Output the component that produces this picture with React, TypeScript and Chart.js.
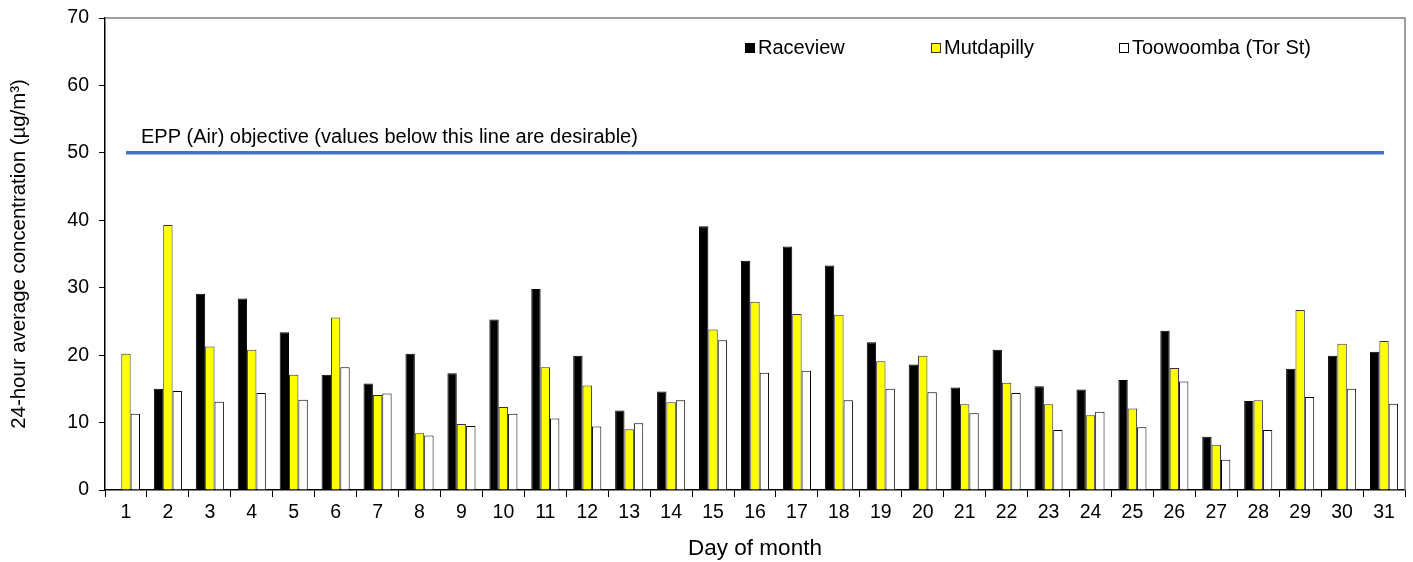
import React, { useEffect, useRef } from "react";
import { Chart, registerables } from "chart.js";

Chart.register(...registerables);

const days = ["1","2","3","4","5","6","7","8","9","10","11","12","13","14","15","16","17","18","19","20","21","22","23","24","25","26","27","28","29","30","31"];

const raceview = [null, 15.0, 29.1, 28.4, 23.4, 17.1, 15.8, 20.2, 17.3, 25.3, 29.8, 19.9, 11.8, 14.6, 39.1, 34.0, 36.1, 33.3, 21.9, 18.6, 15.2, 20.8, 15.4, 14.9, 16.3, 23.6, 7.9, 13.2, 18.0, 19.9, 20.5];
const mutdapilly = [20.2, 39.3, 21.3, 20.8, 17.1, 25.6, 14.1, 8.4, 9.8, 12.3, 18.2, 15.5, 9.0, 13.0, 23.8, 27.9, 26.1, 26.0, 19.1, 19.9, 12.7, 15.9, 12.7, 11.1, 12.1, 18.1, 6.7, 13.3, 26.7, 21.7, 22.1];
const toowoomba = [11.3, 14.7, 13.1, 14.4, 13.4, 18.2, 14.3, 8.1, 9.5, 11.3, 10.6, 9.4, 9.9, 13.3, 22.2, 17.4, 17.7, 13.3, 15.0, 14.5, 11.4, 14.4, 8.9, 11.6, 9.3, 16.1, 4.5, 8.9, 13.8, 15.0, 12.8];
const objectiveValue = 50;
const objective = days.map(() => objectiveValue);

const seriesNames = ["Raceview", "Mutdapilly", "Toowoomba (Tor St)"];
const objectiveLabel = "EPP (Air) objective (values below this line are desirable)";
const yTicks = [0, 10, 20, 30, 40, 50, 60, 70];

const FONT = "'Liberation Sans', Arial, sans-serif";

const overlayPlugin = {
  id: "overlay",
  afterDraw(chart: any) {
    const ctx = chart.ctx;
    const a = chart.chartArea;
    ctx.save();
    // top & right frame
    ctx.strokeStyle = "#808080";
    ctx.lineWidth = 1.5;
    ctx.beginPath();
    ctx.moveTo(a.left, a.top);
    ctx.lineTo(a.right, a.top);
    ctx.lineTo(a.right, a.bottom);
    ctx.stroke();

    // legend
    const items = [
      { x: 745, fill: "#000000", stroke: "#000000" },
      { x: 931, fill: "#ffff00", stroke: "#333333" },
      { x: 1119, fill: "#ffffff", stroke: "#000000" },
    ];
    ctx.font = "20px " + FONT;
    ctx.textBaseline = "middle";
    ctx.textAlign = "left";
    items.forEach((it, i) => {
      ctx.fillStyle = it.fill;
      ctx.fillRect(it.x, 43, 10, 10);
      ctx.strokeStyle = it.stroke;
      ctx.lineWidth = 1;
      ctx.strokeRect(it.x + 0.5, 43.5, 9, 9);
      ctx.fillStyle = "#000000";
      ctx.fillText(seriesNames[i], it.x + 13, 48);
    });

    // objective label
    const xs = chart.scales.x;
    const ys = chart.scales.y;
    ctx.font = "20px " + FONT;
    ctx.fillStyle = "#000000";
    ctx.textBaseline = "alphabetic";
    ctx.fillText(objectiveLabel, xs.getPixelForValue(0) + 15, ys.getPixelForValue(objectiveValue) - 10);
    ctx.restore();
  },
};

export default function App() {
  const ref = useRef<HTMLCanvasElement>(null);
  useEffect(() => {
    if (!ref.current) return;
    const chart = new Chart(ref.current, {
      type: "bar",
      data: {
        labels: days,
        datasets: [
          {
            type: "line",
            label: "objective",
            data: objective,
            borderColor: "#4472C4",
            borderWidth: 3.5,
            pointRadius: 0,
            fill: false,
            order: 0,
          } as any,
          {
            label: seriesNames[0],
            data: raceview,
            backgroundColor: "#000000",
            borderColor: "#000000",
            borderWidth: 1,
            categoryPercentage: 0.67,
            barPercentage: 1.0,
            order: 1,
          },
          {
            label: seriesNames[1],
            data: mutdapilly,
            backgroundColor: "#ffff00",
            borderColor: "#333333",
            borderWidth: 1,
            categoryPercentage: 0.67,
            barPercentage: 1.0,
            order: 1,
          },
          {
            label: seriesNames[2],
            data: toowoomba,
            backgroundColor: "#ffffff",
            borderColor: "#000000",
            borderWidth: 1,
            categoryPercentage: 0.67,
            barPercentage: 1.0,
            order: 1,
          },
        ],
      },
      options: {
        animation: false,
        responsive: false,
        maintainAspectRatio: false,
        layout: { padding: { top: 18, right: 8, left: 0, bottom: 0 } },
        plugins: {
          legend: { display: false },
          tooltip: { enabled: false },
        },
        scales: {
          x: {
            grid: {
              offset: true,
              drawOnChartArea: false,
              drawTicks: true,
              tickLength: 7,
              color: "#000000",
              lineWidth: 1,
            },
            border: { color: "#000000", width: 1.5 },
            ticks: {
              color: "#000000",
              font: { family: FONT, size: 19.5 },
              padding: 4,
              maxRotation: 0,
              autoSkip: false,
            },
            title: {
              display: true,
              text: "Day of month",
              color: "#000000",
              font: { family: FONT, size: 22.5 },
              padding: { top: 0, bottom: 0 },
            },
            afterFit: (s: any) => {
              s.height = 72;
              s.paddingLeft = 0;
              s.paddingRight = 0;
            },
          },
          y: {
            min: 0,
            max: 70,
            afterBuildTicks: (s: any) => {
              s.ticks = yTicks.map((v) => ({ value: v }));
            },
            grid: {
              drawOnChartArea: false,
              drawTicks: true,
              tickLength: 6,
              color: "#000000",
            },
            border: { color: "#000000", width: 1.5 },
            ticks: {
              color: "#000000",
              font: { family: FONT, size: 19.5 },
              padding: 10,
            },
            title: {
              display: true,
              text: "24-hour average concentration (µg/m³)",
              color: "#000000",
              font: { family: FONT, size: 20.4 },
              padding: { top: 7, bottom: 0 },
            },
            afterFit: (s: any) => {
              s.width = 105;
              s.paddingTop = 0;
              s.paddingBottom = 0;
            },
          },
        },
      },
      plugins: [overlayPlugin],
    });
    return () => chart.destroy();
  }, []);
  return (
    <div style={{ position: "fixed", left: 0, top: 0, width: 1413, height: 562, background: "#fff" }}>
      <canvas ref={ref} width={1413} height={562} style={{ display: "block" }} />
    </div>
  );
}
